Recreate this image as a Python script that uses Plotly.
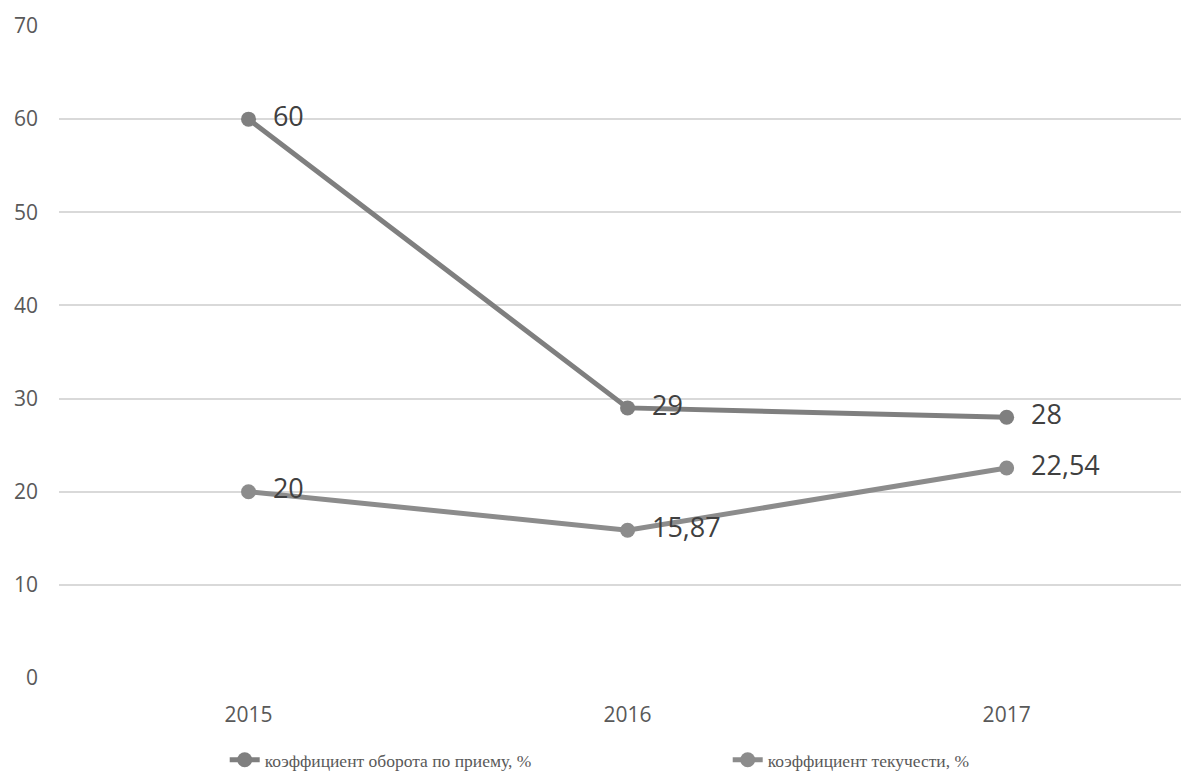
import plotly.graph_objects as go

years = ["2015", "2016", "2017"]
turnover = [60, 29, 28]
fluidity = [20, 15.87, 22.54]
turnover_labels = ["60", "29", "28"]
fluidity_labels = ["20", "15,87", "22,54"]
names = ["коэффициент оборота по приему, %", "коэффициент текучести, %"]

fig = go.Figure()
for ys, labels, name, color in [
    (turnover, turnover_labels, names[0], "#7f7f7f"),
    (fluidity, fluidity_labels, names[1], "#8c8c8c"),
]:
    fig.add_trace(go.Scatter(
        x=[0, 1, 2], y=ys, name=name, mode="lines+markers+text",
        line=dict(color=color, width=5),
        marker=dict(color=color, size=15),
        text=["  " + t for t in labels], textposition="middle right",
        textfont=dict(family="Open Sans, sans-serif", size=27, color="#404040"),
        cliponaxis=False,
    ))

fig.update_layout(
    width=1181, height=773,
    margin=dict(l=59, r=0, t=26, b=95, autoexpand=False),
    plot_bgcolor="white", paper_bgcolor="white",
    showlegend=True,
    legend=dict(orientation="h", x=0.596, xanchor="center",
                yref="container", y=0.017, yanchor="middle",
                font=dict(family="Liberation Serif, serif", size=17.5, color="#595959"),
                entrywidth=458, tracegroupgap=0),
    xaxis=dict(range=[-0.5, 2.46], tickmode="array", tickvals=[0, 1, 2], ticktext=years,
               showgrid=False, zeroline=False, showline=False, ticks="",
               ticklabelstandoff=22, automargin=False,
               tickfont=dict(family="Open Sans, sans-serif", size=21, color="#595959")),
    yaxis=dict(range=[0, 70], dtick=10, showgrid=True, gridcolor="#d9d9d9", gridwidth=1.5,
               zeroline=False, showline=False, ticks="", ticklabelstandoff=20, automargin=False,
               tickfont=dict(family="Open Sans, sans-serif", size=21, color="#595959")),
)
fig.write_html("out.html")
